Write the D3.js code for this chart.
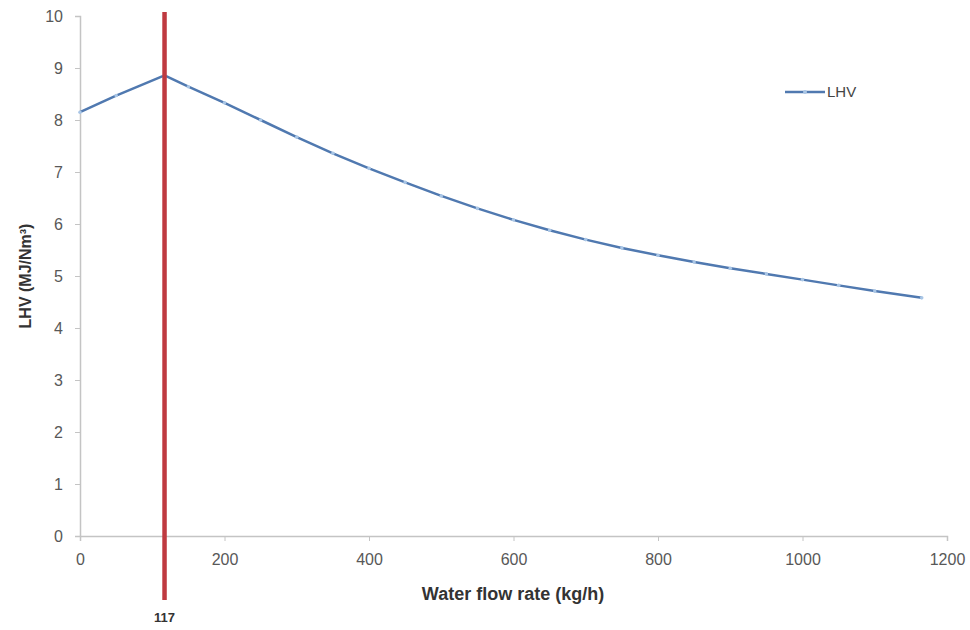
<!DOCTYPE html>
<html><head><meta charset="utf-8">
<script src="https://cdn.jsdelivr.net/npm/d3@7"></script>
<style>body{margin:0;background:#fff;} text{font-family:"Liberation Sans",Arial,sans-serif;}</style>
</head><body>
<svg id="c" width="970" height="630"></svg>
<script>
const flowRate = [0, 50, 117, 150, 200, 250, 300, 350, 400, 450, 500, 550, 600, 650, 700, 750, 800, 850, 900, 950, 1000, 1050, 1100, 1165];
const lhv = [8.15, 8.47, 8.86, 8.64, 8.33, 8.00, 7.67, 7.36, 7.07, 6.80, 6.54, 6.30, 6.08, 5.88, 5.70, 5.54, 5.40, 5.27, 5.15, 5.04, 4.93, 4.82, 4.71, 4.58];
const xTicks = [0, 200, 400, 600, 800, 1000, 1200];
const yTicks = [0, 1, 2, 3, 4, 5, 6, 7, 8, 9, 10];
const markerX = 117;
const seriesName = "LHV";

const svg = d3.select("#c");
const x = d3.scaleLinear().domain([0, 1200]).range([80, 947]);
const y = d3.scaleLinear().domain([0, 10]).range([536, 16]);

// axes
const xa = svg.append("g").attr("transform", "translate(0,536)")
  .call(d3.axisBottom(x).tickValues(xTicks).tickFormat(d3.format("d")).tickSize(5).tickPadding(13));
const ya = svg.append("g").attr("transform", "translate(80,0)")
  .call(d3.axisLeft(y).tickValues(yTicks).tickFormat(d3.format("d")).tickSize(5).tickPadding(12));
[xa, ya].forEach(a => {
  a.select(".domain").attr("stroke", "#c4c4c4").attr("stroke-width", 1.5);
  a.selectAll(".tick line").attr("stroke", "#c4c4c4");
  a.selectAll(".tick text").attr("fill", "#585858").attr("font-size", 16);
});

// series
const pts = flowRate.map((v, i) => [v, lhv[i]]);
svg.append("path").datum(pts)
  .attr("fill", "none").attr("stroke", "#5079b0").attr("stroke-width", 2.5)
  .attr("stroke-linejoin", "round")
  .attr("d", d3.line().x(d => x(d[0])).y(d => y(d[1])));
svg.append("g").selectAll("circle").data(pts).join("circle")
  .attr("cx", d => x(d[0])).attr("cy", d => y(d[1])).attr("r", 1.8)
  .attr("fill", "#a9c6e6");

// red vertical line
svg.append("line")
  .attr("x1", x(markerX)).attr("x2", x(markerX))
  .attr("y1", 12).attr("y2", 600)
  .attr("stroke", "#bf3a40").attr("stroke-width", 4.5);
svg.append("text").attr("x", x(markerX)).attr("y", 622)
  .attr("text-anchor", "middle").attr("font-size", 13).attr("font-weight", "bold")
  .attr("fill", "#333").text(markerX);

// axis titles
svg.append("text").attr("x", 513).attr("y", 600).attr("text-anchor", "middle")
  .attr("font-size", 18).attr("font-weight", "bold").attr("fill", "#333")
  .text("Water flow rate (kg/h)");
svg.append("text").attr("transform", "translate(31,276) rotate(-90)")
  .attr("text-anchor", "middle").attr("font-size", 16).attr("font-weight", "bold").attr("fill", "#333")
  .text("LHV (MJ/Nm³)");

// legend
svg.append("line").attr("x1", 785).attr("x2", 825).attr("y1", 92).attr("y2", 92)
  .attr("stroke", "#5079b0").attr("stroke-width", 2.5);
svg.append("circle").attr("cx", 805).attr("cy", 92).attr("r", 2).attr("fill", "#a9c6e6");
svg.append("text").attr("x", 827).attr("y", 97).attr("font-size", 15).attr("fill", "#444").text(seriesName);
</script>
</body></html>
